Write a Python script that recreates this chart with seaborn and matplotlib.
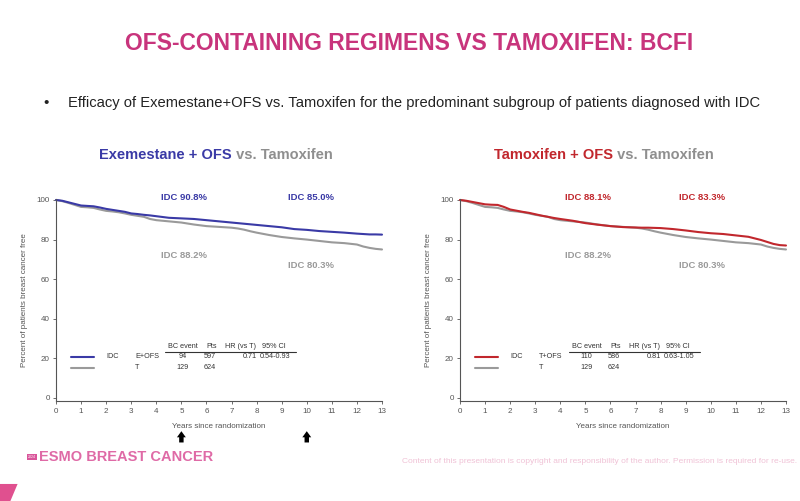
import pandas as pd
import matplotlib.pyplot as plt
import seaborn as sns
from matplotlib.patches import Polygon

# KM curves (years, % breast cancer free)
years = [0, 0.25, 0.5, 0.75, 1, 1.25, 1.5, 1.75, 2, 2.25, 2.5, 2.75, 3, 3.25, 3.5, 3.75, 4,
         4.5, 5, 5.5, 6, 6.5, 7, 7.25, 7.5, 7.75, 8, 8.5, 9, 9.5, 10, 10.5, 11, 11.5, 12,
         12.25, 12.5, 12.75, 13]
e_ofs = [100, 99.6, 98.8, 98.0, 97.2, 97.0, 96.8, 96.2, 95.5, 95.0, 94.5, 94.0, 93.2, 92.9, 92.5,
         92.2, 91.8, 91.0, 90.7, 90.4, 89.8, 89.2, 88.6, 88.3, 88.0, 87.7, 87.4, 86.8, 86.2,
         85.3, 84.9, 84.3, 83.9, 83.5, 83.0, 82.8, 82.6, 82.6, 82.5]
tam = [100, 99.4, 98.5, 97.5, 96.5, 96.3, 96.0, 95.2, 94.5, 94.2, 93.8, 93.2, 92.5, 92.0, 91.5,
       90.4, 89.8, 89.2, 88.6, 87.6, 86.8, 86.4, 86.0, 85.6, 85.0, 84.2, 83.5, 82.3, 81.3,
       80.6, 80.0, 79.3, 78.6, 78.2, 77.5, 76.5, 75.8, 75.3, 75.0]
t_ofs = [100, 99.6, 99.0, 98.4, 97.8, 97.6, 97.5, 96.5, 95.2, 94.6, 94.0, 93.5, 92.8, 92.1, 91.5,
         90.9, 90.4, 89.5, 88.3, 87.5, 86.8, 86.3, 86.1, 86.0, 86.0, 85.9, 85.8, 85.3, 84.6,
         83.8, 83.2, 82.8, 82.1, 81.4, 79.8, 78.8, 77.8, 77.2, 77.0]

BLUE = '#3a3aa6'
RED = '#c1272d'
GRAY = '#9a9a9a'
PINK = '#c8347c'

sns.set_theme(style='white')
plt.rcParams['font.family'] = ['Liberation Sans', 'DejaVu Sans']

fig = plt.figure(figsize=(8, 5.01), dpi=100)
fig.patch.set_facecolor('white')

fig.text(0.512, 0.913, 'OFS-CONTAINING REGIMENS VS TAMOXIFEN: BCFI', ha='center', va='center',
         fontsize=16.5, fontweight='bold', color=PINK)
fig.text(0.058, 0.794, '\u2022', ha='center', va='center', fontsize=11, color='#222222')
fig.text(0.085, 0.794, 'Efficacy of Exemestane+OFS vs. Tamoxifen for the predominant subgroup of patients diagnosed with IDC',
         ha='left', va='center', fontsize=10.6, color='#222222')

panels = [
    dict(left=0.07, arm=e_ofs, color=BLUE, name='Exemestane + OFS', short='E+OFS',
         ann=('IDC 90.8%', 'IDC 85.0%'), ev='94', pts='597', hr='0.71', ci='0.54-0.93', tx=0.124, x2=9.25),
    dict(left=0.575, arm=t_ofs, color=RED, name='Tamoxifen + OFS', short='T+OFS',
         ann=('IDC 88.1%', 'IDC 83.3%'), ev='110', pts='586', hr='0.81', ci='0.63-1.05', tx=0.6175, x2=8.75),
]

for i, p in enumerate(panels):
    ax = fig.add_axes([p['left'], 0.199, 0.4075, 0.4058])
    df = pd.DataFrame({'Years': years * 2, 'BCFI': tam + p['arm'],
                       'Arm': ['T'] * len(years) + [p['short']] * len(years)})
    sns.lineplot(data=df, x='Years', y='BCFI', hue='Arm', palette={'T': GRAY, p['short']: p['color']},
                 estimator=None, linewidth=1.5, legend=False, ax=ax, clip_on=False)
    ax.set_xlim(0, 13)
    ax.set_ylim(-1.7, 101)
    ax.set_xticks(range(14))
    ax.set_yticks(range(0, 101, 20))
    for s in ['top', 'right']:
        ax.spines[s].set_visible(False)
    for s in ['left', 'bottom']:
        ax.spines[s].set_color('#555555')
        ax.spines[s].set_linewidth(0.8)
    ax.spines['left'].set_bounds(-1.7, 100.5)
    ax.tick_params(axis='both', labelsize=5.8, labelcolor='#555555', colors='#555555',
                   length=2.5, width=0.6, direction='out', bottom=True, left=True, pad=2)
    ax.set_xlabel('Years since randomization', fontsize=5.8, color='#555555', labelpad=6)
    ax.set_ylabel('Percent of patients breast cancer free', fontsize=5.8, color='#555555', labelpad=6)
    ax.patch.set_alpha(0)

    # landmark annotations
    ax.text(4.2, 101.5, p['ann'][0], fontsize=6.8, fontweight='bold', color=p['color'], va='center')
    ax.text(p['x2'], 101.5, p['ann'][1], fontsize=6.8, fontweight='bold', color=p['color'], va='center')
    ax.text(4.2, 72, 'IDC 88.2%', fontsize=6.8, fontweight='bold', color=GRAY, va='center')
    ax.text(p['x2'], 67, 'IDC 80.3%', fontsize=6.8, fontweight='bold', color=GRAY, va='center')

    # summary table
    fs = 5.2
    c = '#333333'
    ax.text(4.45, 25.8, 'BC event', fontsize=fs, color=c, va='center')
    ax.text(6.0, 25.8, 'Pts', fontsize=fs, color=c, va='center')
    ax.text(6.75, 25.8, 'HR (vs T)', fontsize=fs, color=c, va='center')
    ax.text(8.2, 25.8, '95% CI', fontsize=fs, color=c, va='center')
    ax.plot([4.35, 9.58], [23.2, 23.2], color='#333333', linewidth=0.8)
    ax.plot([0.6, 1.5], [20.7, 20.7], color=p['color'], linewidth=1.5)
    ax.plot([0.6, 1.5], [15.2, 15.2], color=GRAY, linewidth=1.5)
    ax.text(2.0, 20.7, 'IDC', fontsize=fs, color=c, va='center')
    ax.text(3.15, 20.7, p['short'], fontsize=fs, color=c, va='center')
    ax.text(3.15, 15.2, 'T', fontsize=fs, color=c, va='center')
    ax.text(5.05, 20.7, p['ev'], fontsize=fs, color=c, va='center', ha='center')
    ax.text(5.05, 15.2, '129', fontsize=fs, color=c, va='center', ha='center')
    ax.text(6.15, 20.7, p['pts'], fontsize=fs, color=c, va='center', ha='center')
    ax.text(6.15, 15.2, '624', fontsize=fs, color=c, va='center', ha='center')
    ax.text(8.0, 20.7, p['hr'], fontsize=fs, color=c, va='center', ha='right')
    ax.text(8.14, 20.7, p['ci'], fontsize=fs, color=c, va='center')

    if i == 0:
        for xa in [5, 10]:
            ax.annotate('', xy=(xa, -16.8), xytext=(xa, -22.5), annotation_clip=False,
                        arrowprops=dict(arrowstyle='simple,head_width=0.8,head_length=0.55,tail_width=0.4',
                                        mutation_scale=8, color='black', lw=0,
                                        shrinkA=0, shrinkB=0))

    # two-colour panel title
    t1 = fig.text(p['tx'], 0.69, p['name'], fontsize=10.5, fontweight='bold', color=p['color'], va='center')
    ax.annotate(' vs. Tamoxifen', xy=(1, 0.5), xycoords=t1, va='center', ha='left',
                fontsize=10.5, fontweight='bold', color='#8f8f8f', annotation_clip=False)

# footer
fig.text(0.04, 0.088, '2024', fontsize=2.5, color='white', va='center', ha='center',
         bbox=dict(boxstyle='square,pad=0.35', fc='#d9559a', ec='none'))
fig.text(0.049, 0.088, 'ESMO BREAST CANCER', fontsize=10.5, fontweight='bold', color='#df6aa6',
         va='center')
fig.text(0.996, 0.078, 'Content of this presentation is copyright and responsibility of the author. Permission is required for re-use.',
         ha='right', va='center', fontsize=6.0, color='#f0c2d6')
fig.patches.append(Polygon([[0, 0], [0.013, 0], [0.022, 0.034], [0, 0.034]], closed=True,
                           transform=fig.transFigure, fc='#e0508f', ec='none', figure=fig))

fig.savefig('out.png', dpi=100)
